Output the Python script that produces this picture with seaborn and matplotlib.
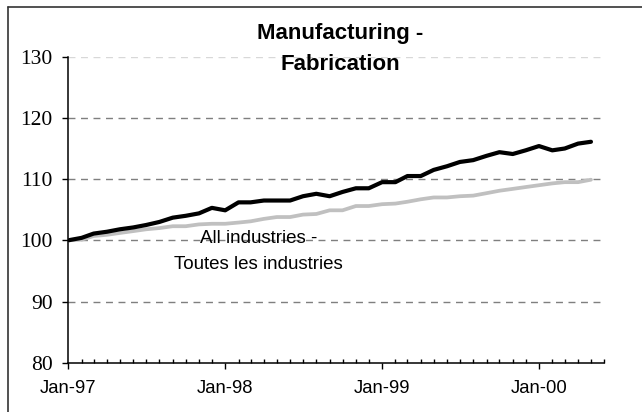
import matplotlib
matplotlib.use("Agg")
import matplotlib.pyplot as plt
import matplotlib.dates as mdates
from matplotlib.lines import Line2D
import pandas as pd
import seaborn as sns

# ---- data ----
months = pd.date_range("1997-01-01", "2000-05-01", freq="MS")
manufacturing = [100.0, 100.4, 101.1, 101.4, 101.8, 102.1, 102.5, 103.0, 103.7, 104.0,
                 104.4, 105.3, 104.9, 106.2, 106.2, 106.5, 106.5, 106.5, 107.2, 107.6,
                 107.2, 107.9, 108.5, 108.5, 109.5, 109.5, 110.5, 110.5, 111.5, 112.1,
                 112.8, 113.1, 113.8, 114.4, 114.1, 114.7, 115.4, 114.7, 115.0, 115.8,
                 116.1]
all_industries = [100.0, 100.1, 100.7, 100.9, 101.2, 101.5, 101.8, 102.0, 102.3, 102.3,
                  102.6, 102.7, 102.7, 102.9, 103.1, 103.5, 103.8, 103.8, 104.2, 104.3,
                  104.9, 104.9, 105.6, 105.6, 105.9, 106.0, 106.3, 106.7, 107.0, 107.0,
                  107.2, 107.3, 107.7, 108.1, 108.4, 108.7, 109.0, 109.3, 109.5, 109.5,
                  109.9]
y_ticks = [80, 90, 100, 110, 120, 130]
title_lines = ["Manufacturing -", "Fabrication"]
annotation_lines = ["All industries -", "Toutes les industries"]

df = pd.DataFrame({"date": months, "Manufacturing": manufacturing,
                   "All industries": all_industries})

sns.set_theme(style="white")
plt.rcParams["font.family"] = ["Liberation Sans", "DejaVu Sans"]

fig = plt.figure(figsize=(6.42, 4.12), dpi=100)
ax = fig.add_axes([68.3 / 642, 1 - 362.7 / 412, (604.3 - 68.3) / 642, (362.7 - 56.7) / 412])

# gridlines
for v in y_ticks[1:]:
    ax.axhline(v, color="#d8d8d8" if v == 130 else "#7f7f7f", lw=1.0,
               dashes=(5, 4), zorder=1)

sns.lineplot(data=df, x="date", y="All industries", color="#c0c0c0", lw=2.7,
             ax=ax, zorder=3)
sns.lineplot(data=df, x="date", y="Manufacturing", color="black", lw=3.0,
             ax=ax, zorder=4)

ax.set_xlim(pd.Timestamp("1997-01-01"), pd.Timestamp("2000-06-01"))
ax.set_ylim(80, 130)
ax.set_yticks(y_ticks)
ax.set_xlabel("")
ax.set_ylabel("")

ax.xaxis.set_major_locator(mdates.MonthLocator(bymonth=1))
ax.xaxis.set_major_formatter(mdates.DateFormatter("%b-%y"))
ax.xaxis.set_minor_locator(mdates.MonthLocator())

for s in ["top", "right"]:
    ax.spines[s].set_visible(False)
for s in ["left", "bottom"]:
    ax.spines[s].set_color("black")
    ax.spines[s].set_linewidth(1.1)

ax.tick_params(axis="x", which="major", direction="out", length=4.3, width=1.0,
               color="black", bottom=True, pad=8.5, labelsize=13.3, labelcolor="black")
ax.tick_params(axis="x", which="minor", direction="in", length=2.6, width=1.0,
               color="black", bottom=True)
ax.tick_params(axis="y", which="major", direction="out", length=4.1, width=1.0,
               color="black", left=True, pad=7.2, labelcolor="black")
for lab in ax.get_yticklabels():
    lab.set_fontfamily(["Liberation Serif", "DejaVu Serif"])
    lab.set_fontsize(15.5)

# annotation
ax.text(pd.Timestamp("1998-03-20"), 100.25, annotation_lines[0], ha="center", va="center",
        fontsize=13.5, color="black", zorder=5)
ax.text(pd.Timestamp("1998-03-20"), 96.1, annotation_lines[1], ha="center", va="center",
        fontsize=13.5, color="black", zorder=5)

# title
fig.text(340.5 / 642, 1 - 38.5 / 412, title_lines[0], ha="center", va="baseline",
         fontsize=16, fontweight="bold", color="black")
fig.text(340.5 / 642, 1 - 70 / 412, title_lines[1], ha="center", va="baseline",
         fontsize=16, fontweight="bold", color="black")

# outer frame (top and left)
fig.add_artist(Line2D([8.3 / 642, 1.0], [1 - 7 / 412, 1 - 7 / 412], color="#333333", lw=1.2))
fig.add_artist(Line2D([8.3 / 642, 8.3 / 642], [0.0, 1 - 7 / 412], color="#333333", lw=1.2))

fig.savefig("out.png", dpi=100)
